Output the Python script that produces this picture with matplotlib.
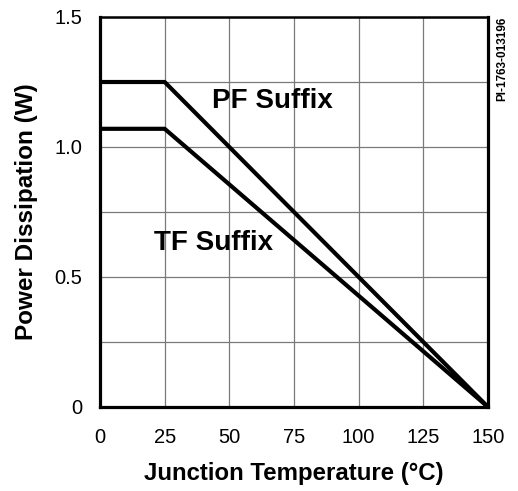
import matplotlib.pyplot as plt

plt.rcParams['font.family'] = ['Liberation Sans', 'DejaVu Sans']

# derating curves (junction temperature vs. power dissipation)
temp = [0, 25, 150]
pf_power = [1.25, 1.25, 0]
tf_power = [1.07, 1.07, 0]

x_ticks = [0, 25, 50, 75, 100, 125, 150]
y_ticks = [0, 0.5, 1.0, 1.5]
y_tick_labels = ["0", "0.5", "1.0", "1.5"]

fig = plt.figure(figsize=(5.18, 4.91), dpi=100)
ax = fig.add_axes([100 / 518, 84 / 491, 388 / 518, 390 / 491])

ax.plot(temp, pf_power, color="black", lw=3, solid_capstyle="round", zorder=3)
ax.plot(temp, tf_power, color="black", lw=3, solid_capstyle="round", zorder=3)

ax.set_xlim(0, 150)
ax.set_ylim(0, 1.5)
ax.set_xticks(x_ticks)
ax.set_yticks(y_ticks)
ax.set_yticklabels(y_tick_labels)
ax.set_yticks([0.25, 0.75, 1.25], minor=True)
ax.tick_params(which="both", length=0, labelsize=14.5)
ax.tick_params(axis="y", pad=13)
ax.tick_params(axis="x", pad=15)
ax.grid(True, which="both", color="#7a7a7a", lw=0.9)
ax.set_axisbelow(True)

for side in ["left", "bottom", "right"]:
    ax.spines[side].set_linewidth(2.3)
ax.spines["top"].set_linewidth(1.8)

ax.set_xlabel("Junction Temperature (°C)", fontsize=17.3, fontweight="bold", labelpad=11)
ax.set_ylabel("Power Dissipation (W)", fontsize=17.5, fontweight="bold")
ax.yaxis.set_label_coords(-62 / 388, 0.5)

ax.text(43.3, 1.177, "PF Suffix", fontsize=20, fontweight="bold", va="center", ha="left")
ax.text(20.9, 0.631, "TF Suffix", fontsize=20, fontweight="bold", va="center", ha="left")

fig.text(502 / 518, 1 - 17 / 491, "PI-1763-013196", rotation=90, fontsize=8.5,
         fontweight="bold", ha="center", va="top")

fig.savefig("out.png", dpi=100)
